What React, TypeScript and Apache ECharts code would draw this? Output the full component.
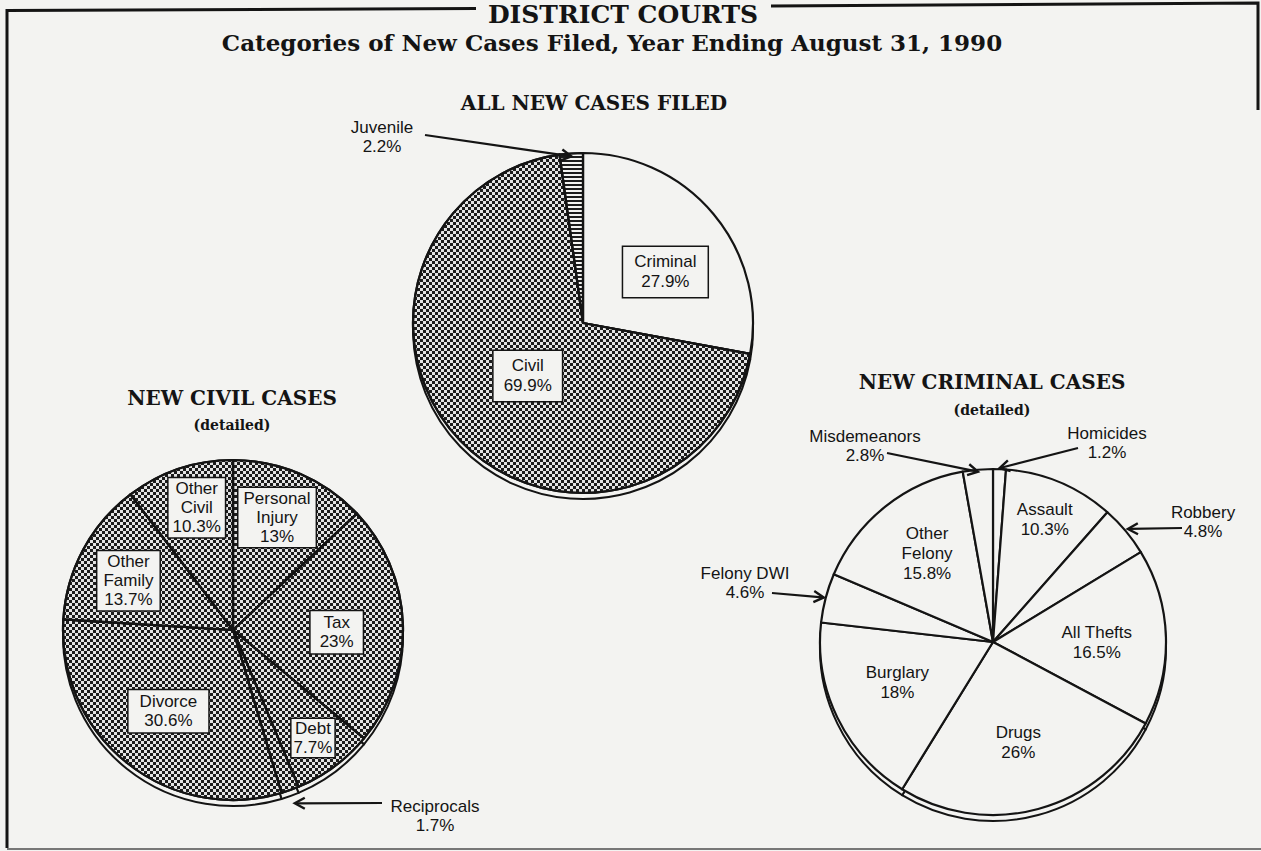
import React, { useEffect, useRef } from 'react';
import * as echarts from 'echarts';

// ---------- DATA ----------
const allNames = ['Criminal', 'Civil', 'Juvenile'];
const allValues = [27.9, 69.9, 2.2];

const civilNames = ['Personal Injury', 'Tax', 'Debt', 'Reciprocals', 'Divorce', 'Other Family', 'Other Civil'];
const civilValues = [13, 23, 7.7, 1.7, 30.6, 13.7, 10.3];

const crimNames = ['Homicides', 'Assault', 'Robbery', 'All Thefts', 'Drugs', 'Burglary', 'Felony DWI', 'Other Felony', 'Misdemeanors'];
const crimValues = [1.2, 10.3, 4.8, 16.5, 26, 18, 4.6, 15.8, 2.8];

const mainTitle = 'DISTRICT COURTS';
const subTitle = 'Categories of New Cases Filed, Year Ending August 31, 1990';
const allTitle = 'ALL NEW CASES FILED';
const civilTitle = 'NEW CIVIL CASES';
const crimTitle = 'NEW CRIMINAL CASES';
const detailText = '(detailed)';

// ---------- STYLE / LAYOUT ----------
const W = 1261;
const H = 851;
const INK = '#141414';
const PAPER = '#f3f3f1';
const SANS = "'Liberation Sans', Arial, Helvetica, sans-serif";
const SERIF = "'DejaVu Serif', 'Liberation Serif', serif";

type Geo = { cx: number; cy: number; r: number };
const geoAll: Geo = { cx: 583, cy: 323, r: 170 };
const geoCivil: Geo = { cx: 233, cy: 630, r: 170 };
const geoCrim: Geo = { cx: 993, cy: 642, r: 173 };
const RIM = 6;

// inside label placement: [radius fraction, angle shift (deg), padV, padH]
type Inside = Record<string, number[]>;
const allInside: Inside = { Criminal: [0.57, 8, 5, 11], Civil: [0.45, 0, 5, 10] };
const civilInside: Inside = {
  'Personal Injury': [0.71, -2, 1, 5],
  Tax: [0.61, 3, 2, 9],
  Debt: [0.79, 0, 0, 2],
  Divorce: [0.61, 0, 2, 11],
  'Other Family': [0.68, -3, 1, 6],
  'Other Civil': [0.75, 2, 1, 4],
};
const crimInside: Inside = {
  Assault: [0.77, 0],
  'All Thefts': [0.6, 2],
  Drugs: [0.6, 1],
  Burglary: [0.6, 3],
  'Other Felony': [0.64, 2],
};

// outside labels: label centre, arrow tail, extra radius of arrow tip
type Outside = Record<string, { at: number[]; tail: number[]; tip: number }>;
const allOutside: Outside = { Juvenile: { at: [382, 137], tail: [425, 135], tip: -3 } };
const civilOutside: Outside = { Reciprocals: { at: [435, 816], tail: [382, 803], tip: 14 } };
const crimOutside: Outside = {
  Homicides: { at: [1107, 443], tail: [1078, 448], tip: 1 },
  Misdemeanors: { at: [865, 446], tail: [887, 453], tip: -2 },
  Robbery: { at: [1203, 522], tail: [1182, 528], tip: 3 },
  'Felony DWI': { at: [745, 583], tail: [772, 593], tip: 2 },
};

const wrapNames = new Set(['Personal Injury', 'Other Civil', 'Other Family', 'Other Felony']);

const checker = {
  symbol: 'rect',
  symbolSize: 1,
  symbolKeepAspect: false,
  color: '#1c1c1c',
  dashArrayX: [[3, 3], [0, 3, 3, 0]],
  dashArrayY: [3, 0],
};
const stripes = {
  symbol: 'rect',
  symbolSize: 1,
  symbolKeepAspect: false,
  color: '#1c1c1c',
  dashArrayX: [4, 0],
  dashArrayY: [2, 2],
};
const fillWhite = { color: PAPER };
const fillChecker = { color: '#e4e4e4', decal: checker };
const fillStripes = { color: PAPER, decal: stripes };

// ---------- HELPERS ----------
function midAngles(values: number[]): number[] {
  const total = values.reduce((a, b) => a + b, 0);
  let acc = 0;
  return values.map((v) => {
    const a = ((acc + v / 2) / total) * 360;
    acc += v;
    return a;
  });
}
function polar(g: Geo, deg: number, rr: number): number[] {
  const a = (deg * Math.PI) / 180;
  return [g.cx + rr * Math.sin(a), g.cy - rr * Math.cos(a)];
}
function labelText(p: any): string {
  const n = wrapNames.has(p.name) ? p.name.replace(' ', '\n') : p.name;
  return `${n}\n${p.value}%`;
}

function rimSeries(values: number[], names: string[], geo: Geo) {
  return {
    type: 'pie',
    z: 1,
    silent: true,
    center: [geo.cx, geo.cy + RIM],
    radius: geo.r,
    startAngle: 90,
    clockwise: true,
    emphasis: { disabled: true },
    label: { show: false },
    labelLine: { show: false },
    itemStyle: { color: PAPER, borderColor: INK, borderWidth: 2 },
    data: names.map((name, i) => ({ name, value: values[i] })),
  };
}

function pieSeries(
  names: string[],
  values: number[],
  geo: Geo,
  fills: any[],
  inside: Inside,
  outside: Outside,
  lineHeight: number,
  boxed: boolean
) {
  const mids = midAngles(values);
  const data = names.map((name, i) => {
    const spec = inside[name];
    const label: any = {};
    if (boxed && spec && !outside[name]) {
      label.backgroundColor = PAPER;
      label.borderColor = INK;
      label.borderWidth = 1.5;
      label.padding = [spec[2], spec[3]];
    }
    if (outside[name]) label.lineHeight = 19;
    return { name, value: values[i], itemStyle: fills[i], label };
  });
  return {
    type: 'pie',
    z: 3,
    silent: true,
    center: [geo.cx, geo.cy],
    radius: geo.r,
    startAngle: 90,
    clockwise: true,
    avoidLabelOverlap: false,
    emphasis: { disabled: true },
    itemStyle: { borderColor: INK, borderWidth: 2.2 },
    label: {
      show: true,
      position: 'inside',
      formatter: labelText,
      color: INK,
      fontFamily: SANS,
      fontSize: 17,
      lineHeight,
      align: 'center',
    },
    labelLine: { show: false },
    labelLayout: (p: any) => {
      const name = names[p.dataIndex];
      const o = outside[name];
      if (o) return { x: o.at[0], y: o.at[1], align: 'center', verticalAlign: 'middle' };
      const s = inside[name] || [0.6, 0];
      const [x, y] = polar(geo, mids[p.dataIndex] + s[1], geo.r * s[0]);
      return { x, y, align: 'center', verticalAlign: 'middle' };
    },
    data,
  };
}

function arrows(names: string[], values: number[], geo: Geo, outside: Outside) {
  const mids = midAngles(values);
  const els: any[] = [];
  names.forEach((name, i) => {
    const o = outside[name];
    if (!o) return;
    const [tx, ty] = polar(geo, mids[i], geo.r + o.tip);
    const [sx, sy] = o.tail;
    const len = Math.hypot(tx - sx, ty - sy);
    const ux = (tx - sx) / len;
    const uy = (ty - sy) / len;
    const hx = tx - ux * 10;
    const hy = ty - uy * 10;
    els.push({
      type: 'line',
      z: 50,
      silent: true,
      shape: { x1: sx, y1: sy, x2: tx - ux * 1.5, y2: ty - uy * 1.5 },
      style: { stroke: INK, lineWidth: 2.2 },
    });
    els.push({
      type: 'polyline',
      z: 50,
      silent: true,
      shape: {
        points: [
          [hx - uy * 5.5, hy + ux * 5.5],
          [tx, ty],
          [hx + uy * 5.5, hy - ux * 5.5],
        ],
      },
      style: { stroke: INK, lineWidth: 2.4, fill: null },
    });
  });
  return els;
}

function serifTitle(text: string, left: number, top: number, size: number) {
  return {
    text,
    left,
    top,
    textAlign: 'center',
    padding: 0,
    textStyle: { fontFamily: SERIF, fontWeight: 'bold', fontSize: size, color: INK },
  };
}

function buildOption(): any {
  const frame = [
    {
      type: 'polyline',
      silent: true,
      shape: { points: [[476, 8.5], [7, 10.5], [7, 848]] },
      style: { stroke: INK, lineWidth: 3, fill: null },
    },
    {
      type: 'polyline',
      silent: true,
      shape: { points: [[771, 6], [1258, 3], [1258, 110]] },
      style: { stroke: INK, lineWidth: 3, fill: null },
    },
    {
      type: 'line',
      silent: true,
      shape: { x1: 7, y1: 849, x2: 1261, y2: 849 },
      style: { stroke: '#777', lineWidth: 2 },
    },
  ];
  return {
    animation: false,
    backgroundColor: PAPER,
    title: [
      serifTitle(mainTitle, 623, 1.5, 25),
      serifTitle(subTitle, 612, 30.5, 23),
      serifTitle(allTitle, 594, 93, 20),
      serifTitle(civilTitle, 232, 388, 20),
      serifTitle(detailText, 232, 418, 14),
      serifTitle(crimTitle, 992, 372, 20),
      serifTitle(detailText, 992, 403, 14),
    ],
    graphic: [
      ...frame,
      ...arrows(allNames, allValues, geoAll, allOutside),
      ...arrows(civilNames, civilValues, geoCivil, civilOutside),
      ...arrows(crimNames, crimValues, geoCrim, crimOutside),
    ],
    series: [
      rimSeries(allValues, allNames, geoAll),
      pieSeries(allNames, allValues, geoAll, [fillWhite, fillChecker, fillStripes], allInside, allOutside, 20, true),
      rimSeries(civilValues, civilNames, geoCivil),
      pieSeries(civilNames, civilValues, geoCivil, civilNames.map(() => fillChecker), civilInside, civilOutside, 19, true),
      rimSeries(crimValues, crimNames, geoCrim),
      pieSeries(crimNames, crimValues, geoCrim, crimNames.map(() => fillWhite), crimInside, crimOutside, 20, false),
    ],
  };
}

export default function App() {
  const ref = useRef<HTMLDivElement>(null);
  useEffect(() => {
    const chart = echarts.init(ref.current!, null, { renderer: 'svg' });
    chart.setOption(buildOption());
    return () => chart.dispose();
  }, []);
  return (
    <div
      ref={ref}
      style={{ position: 'fixed', left: 0, top: 0, width: W, height: H, background: PAPER }}
    />
  );
}
